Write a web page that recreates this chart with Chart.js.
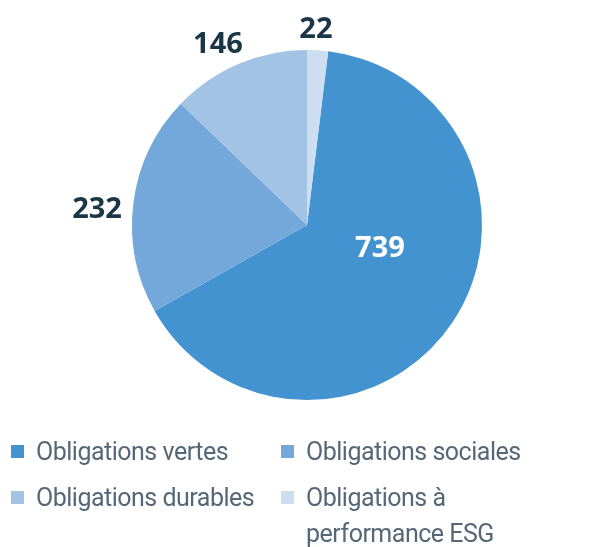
<!DOCTYPE html>
<html><head><meta charset="utf-8">
<script src="https://cdn.jsdelivr.net/npm/chart.js@4"></script>
<style>
html,body{margin:0;padding:0;background:#fff;}
#wrap{position:relative;width:616px;height:547px;}
#c{position:absolute;left:0;top:0;}
.leg{position:absolute;font-family:Roboto,sans-serif;font-size:25px;letter-spacing:-0.5px;color:#566878;line-height:36px;white-space:nowrap;}
.sw{position:absolute;width:13px;height:13px;}
</style></head>
<body>
<div id="wrap">
<canvas id="c" width="616" height="547"></canvas>
<div id="legend"></div>
</div>
<script>
const categories = ["Obligations vertes", "Obligations sociales", "Obligations durables", "Obligations à performance ESG"];
const values = [739, 232, 146, 22];
const colors = ["#4293d0", "#75a8da", "#a3c3e5", "#cddef1"];
const legendLines = [["Obligations vertes"], ["Obligations sociales"], ["Obligations durables"], ["Obligations à", "performance ESG"]];

const total = values.reduce((a,b)=>a+b,0);
const rotation = values[values.length-1] / total * 360;

// label placement relative to pie centre, in units of radius
const labelOffsets = [[0.417, 0.137], [-1.2, -0.086], [-0.509, -1.03], [0.051, -1.114]];
const labelColors = ['#ffffff', '#1b3647', '#1b3647', '#1b3647'];

const labelPlugin = {
  id: 'sliceLabels',
  afterDatasetsDraw(chart) {
    const ctx = chart.ctx;
    const meta = chart.getDatasetMeta(0);
    ctx.save();
    ctx.font = 'bold 29px "Open Sans", sans-serif';
    ctx.textAlign = 'center';
    ctx.textBaseline = 'middle';
    meta.data.forEach((arc, i) => {
      const r = arc.outerRadius;
      const x = arc.x + labelOffsets[i][0] * r;
      const y = arc.y + labelOffsets[i][1] * r;
      ctx.fillStyle = labelColors[i];
      ctx.fillText(String(values[i]), x, y);
    });
    ctx.restore();
  }
};

new Chart(document.getElementById('c'), {
  type: 'pie',
  data: { labels: categories, datasets: [{ data: values, backgroundColor: colors, borderWidth: 0 }] },
  options: {
    responsive: false,
    animation: false,
    rotation: rotation,
    layout: { padding: { top: 50, bottom: 147, left: 0, right: 2 } },
    plugins: { legend: { display: false }, tooltip: { enabled: false } }
  },
  plugins: [labelPlugin]
});

const pos = [[11, 434], [281, 434], [11, 480], [281, 480]];
const legend = document.getElementById('legend');
categories.forEach((c, i) => {
  const sw = document.createElement('div');
  sw.className = 'sw';
  sw.style.background = colors[i];
  sw.style.left = pos[i][0] + 'px';
  sw.style.top = (pos[i][1] + 11) + 'px';
  legend.appendChild(sw);
  const t = document.createElement('div');
  t.className = 'leg';
  t.style.left = (pos[i][0] + 25) + 'px';
  t.style.top = pos[i][1] + 'px';
  t.innerHTML = legendLines[i].join('<br>');
  legend.appendChild(t);
});
</script>
</body></html>
